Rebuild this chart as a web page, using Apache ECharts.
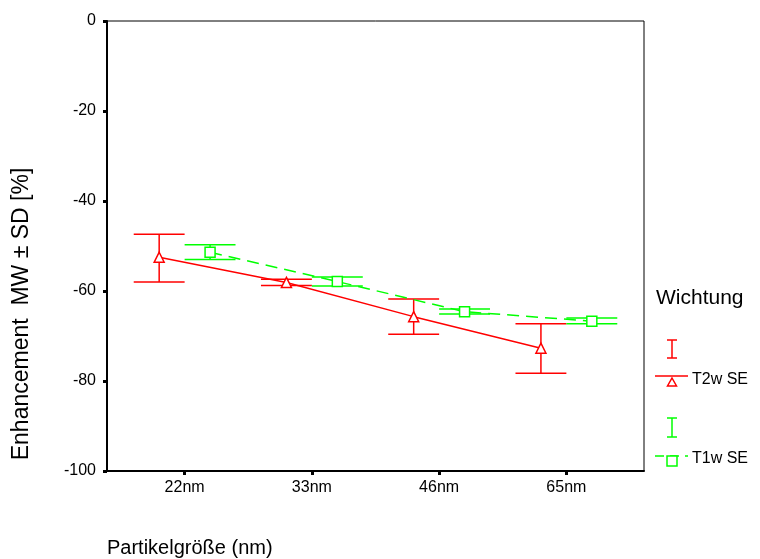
<!DOCTYPE html>
<html>
<head>
<meta charset="utf-8">
<script src="https://cdn.jsdelivr.net/npm/echarts@6/dist/echarts.min.js"></script>
<style>
html,body{margin:0;padding:0;background:#fff;}
#chart{width:760px;height:559px;}
</style>
</head>
<body>
<div id="chart"></div>
<script>
// ---- data ----
const categories = ['22nm', '33nm', '46nm', '65nm'];
const t2Mean = [-52.5, -58.1, -65.7, -72.7];
const t2Low  = [-58.0, -58.8, -69.6, -78.3];
const t2High = [-47.4, -57.4, -61.8, -67.3];
const t1Mean = [-51.4, -57.9, -64.6, -66.7];
const t1Low  = [-53.0, -58.9, -65.1, -67.3];
const t1High = [-49.7, -56.9, -64.0, -66.0];
const yTicks = [0, -20, -40, -60, -80, -100];
const seriesNames = ['T2w SE', 'T1w SE'];
const legendTitle = 'Wichtung';
const xTitle = 'Partikelgröße (nm)';
const yTitle = 'Enhancement  MW ± SD [%]';

// ---- layout ----
const RED = '#ff0000';
const GREEN = '#00ff00';
const OFF_T2 = -0.2, OFF_T1 = 0.2, CAP = 0.2;
const FONT = 'Arial, "Liberation Sans", sans-serif';

function pts(mean, off) { return mean.map((v, i) => [i + 1 + off, v]); }
function bars(lo, hi, off) { return lo.map((v, i) => [i + 1 + off, v, hi[i]]); }

function errRender(color) {
  return function (params, api) {
    const x = api.value(0), lo = api.value(1), hi = api.value(2);
    const pLo = api.coord([x, lo]), pHi = api.coord([x, hi]);
    const l1 = api.coord([x - CAP, lo]), r1 = api.coord([x + CAP, lo]);
    const l2 = api.coord([x - CAP, hi]), r2 = api.coord([x + CAP, hi]);
    const st = { stroke: color, lineWidth: 1.5 };
    return {
      type: 'group',
      children: [
        { type: 'line', shape: { x1: pLo[0], y1: pLo[1], x2: pHi[0], y2: pHi[1] }, style: st },
        { type: 'line', shape: { x1: l1[0], y1: l1[1], x2: r1[0], y2: r1[1] }, style: st },
        { type: 'line', shape: { x1: l2[0], y1: l2[1], x2: r2[0], y2: r2[1] }, style: st }
      ]
    };
  };
}

const chart = echarts.init(document.getElementById('chart'), null, { renderer: 'canvas' });

const option = {
  backgroundColor: '#fff',
  animation: false,
  grid: { left: 107, right: 116, top: 21, bottom: 88, show: true, borderColor: '#000', borderWidth: 1, backgroundColor: 'transparent' },
  xAxis: {
    type: 'value', min: 0.39, max: 4.61,
    splitLine: { show: false },
    axisLine: { show: true, onZero: false, lineStyle: { color: '#000', width: 2 } },
    axisTick: { show: true, customValues: [1, 2, 3, 4], length: 4, lineStyle: { color: '#000', width: 3 } },
    axisLabel: { customValues: [1, 2, 3, 4], formatter: v => categories[Math.round(v) - 1] || '', color: '#000', fontSize: 16, fontFamily: FONT, margin: 9 }
  },
  yAxis: {
    type: 'value', min: yTicks[yTicks.length - 1], max: yTicks[0], interval: 20,
    splitLine: { show: false },
    axisLine: { show: true, onZero: false, lineStyle: { color: '#000', width: 2 } },
    axisTick: { show: true, length: 4, lineStyle: { color: '#000', width: 3 } },
    axisLabel: { color: '#000', fontSize: 16, fontFamily: FONT, margin: 11 }
  },
  series: [
    { name: seriesNames[0] + ' err', type: 'custom', renderItem: errRender(RED), data: bars(t2Low, t2High, OFF_T2), z: 2, silent: true },
    { name: seriesNames[1] + ' err', type: 'custom', renderItem: errRender(GREEN), data: bars(t1Low, t1High, OFF_T1), z: 2, silent: true },
    { name: seriesNames[0], type: 'line', data: pts(t2Mean, OFF_T2), symbol: 'triangle', symbolSize: [10, 10], showSymbol: true,
      itemStyle: { color: '#fff', borderColor: RED, borderWidth: 1.5 }, lineStyle: { color: RED, width: 1.5 }, z: 3 },
    { name: seriesNames[1], type: 'line', data: pts(t1Mean, OFF_T1), symbol: 'rect', symbolSize: [10, 10], showSymbol: true,
      itemStyle: { color: '#fff', borderColor: GREEN, borderWidth: 1.5 }, lineStyle: { color: GREEN, width: 1.5, type: [12, 7] }, z: 3 }
  ],
  graphic: [
    { type: 'text', x: 22, y: 314, rotation: Math.PI / 2, style: { text: yTitle, font: '23px ' + FONT, fill: '#000', align: 'center', verticalAlign: 'middle' } },
    { type: 'text', x: 107, y: 548, style: { text: xTitle, font: '20px ' + FONT, fill: '#000', align: 'left', verticalAlign: 'middle' } },
    { type: 'text', x: 656, y: 298, style: { text: legendTitle, font: '21px ' + FONT, fill: '#000', align: 'left', verticalAlign: 'middle' } },
    // T2w legend
    { type: 'line', shape: { x1: 672, y1: 340, x2: 672, y2: 358 }, style: { stroke: RED, lineWidth: 1.5 } },
    { type: 'line', shape: { x1: 667, y1: 340, x2: 677, y2: 340 }, style: { stroke: RED, lineWidth: 1.5 } },
    { type: 'line', shape: { x1: 667, y1: 358, x2: 677, y2: 358 }, style: { stroke: RED, lineWidth: 1.5 } },
    { type: 'line', shape: { x1: 655, y1: 376, x2: 688, y2: 376 }, style: { stroke: RED, lineWidth: 1.5 } },
    { type: 'polygon', shape: { points: [[672, 378], [676.5, 386], [667.5, 386]] }, style: { stroke: RED, fill: '#fff', lineWidth: 1.5 } },
    { type: 'text', x: 692, y: 380, style: { text: seriesNames[0], font: '16px ' + FONT, fill: '#000', align: 'left', verticalAlign: 'middle' } },
    // T1w legend
    { type: 'line', shape: { x1: 672, y1: 418, x2: 672, y2: 437 }, style: { stroke: GREEN, lineWidth: 1.5 } },
    { type: 'line', shape: { x1: 667, y1: 418, x2: 677, y2: 418 }, style: { stroke: GREEN, lineWidth: 1.5 } },
    { type: 'line', shape: { x1: 667, y1: 437, x2: 677, y2: 437 }, style: { stroke: GREEN, lineWidth: 1.5 } },
    { type: 'line', shape: { x1: 655, y1: 456, x2: 688, y2: 456 }, style: { stroke: GREEN, lineWidth: 1.5, lineDash: [9, 6] } },
    { type: 'rect', shape: { x: 667, y: 456, width: 10, height: 10 }, style: { stroke: GREEN, fill: '#fff', lineWidth: 1.5 } },
    { type: 'text', x: 692, y: 459, style: { text: seriesNames[1], font: '16px ' + FONT, fill: '#000', align: 'left', verticalAlign: 'middle' } }
  ]
};
chart.setOption(option);
</script>
</body>
</html>
